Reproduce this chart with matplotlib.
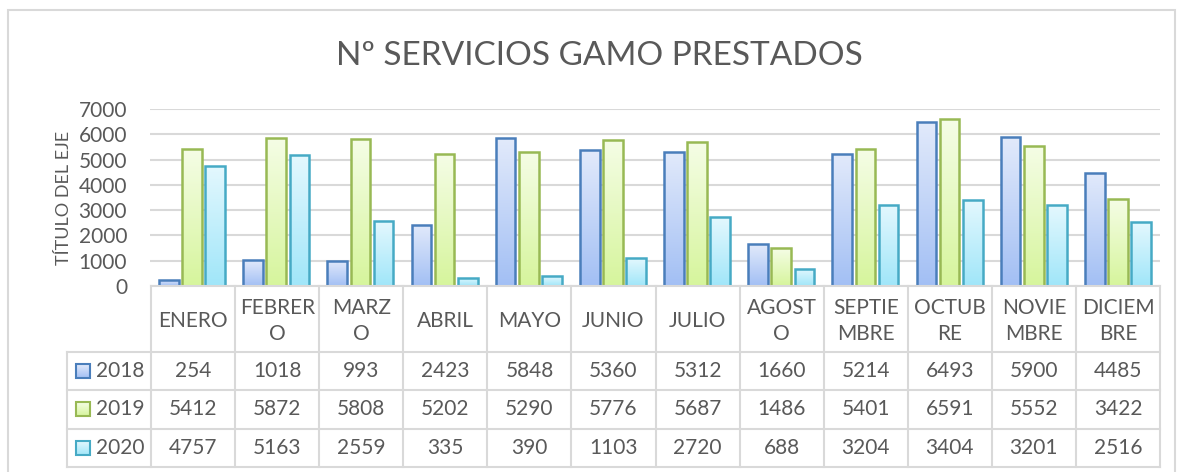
import numpy as np
import matplotlib
matplotlib.use("Agg")
import matplotlib.pyplot as plt
from matplotlib.colors import LinearSegmentedColormap
from matplotlib.patches import Rectangle

plt.rcParams['font.family'] = ['Lato', 'DejaVu Sans']

months = ["ENERO", "FEBRERO", "MARZO", "ABRIL", "MAYO", "JUNIO", "JULIO",
          "AGOSTO", "SEPTIEMBRE", "OCTUBRE", "NOVIEMBRE", "DICIEMBRE"]
header_labels = ["ENERO", "FEBRER\nO", "MARZ\nO", "ABRIL", "MAYO", "JUNIO", "JULIO",
                 "AGOST\nO", "SEPTIE\nMBRE", "OCTUB\nRE", "NOVIE\nMBRE", "DICIEM\nBRE"]
years = ["2018", "2019", "2020"]
v2018 = [254, 1018, 993, 2423, 5848, 5360, 5312, 1660, 5214, 6493, 5900, 4485]
v2019 = [5412, 5872, 5808, 5202, 5290, 5776, 5687, 1486, 5401, 6591, 5552, 3422]
v2020 = [4757, 5163, 2559, 335, 390, 1103, 2720, 688, 3204, 3404, 3201, 2516]
series = [v2018, v2019, v2020]
y_ticks = [0, 1000, 2000, 3000, 4000, 5000, 6000, 7000]

edge_cols = ["#4a7ebb", "#98b954", "#46aac5"]
top_cols = ["#e2eafb", "#f5fde6", "#e4f8fe"]
bot_cols = ["#a2bff4", "#d6f59c", "#a0e6f9"]
gray = "#595959"
grid_col = "#d9d9d9"
FS = 15

W, H = 1185, 472
fig = plt.figure(figsize=(W / 100, H / 100), dpi=100)

def fx(px):
    return px / W

def fy(py):
    return 1 - py / H

# outer frame
fig.patches.append(Rectangle((fx(8), fy(480)), fx(1175) - fx(8), fy(10) - fy(480),
                             transform=fig.transFigure, fill=False,
                             edgecolor="#d9d9d9", linewidth=1.5))

fig.text(fx(599), fy(56), "Nº SERVICIOS GAMO PRESTADOS", ha="center", va="center",
         fontsize=24, color=gray)

# main chart
ax = fig.add_axes([fx(150), fy(286), fx(1160) - fx(150), fy(109) - fy(286)])
ax.set_xlim(-0.5, 11.5)
ax.set_ylim(0, 7000)
for s in ax.spines.values():
    s.set_visible(False)
ax.set_yticks(y_ticks)
ax.set_yticklabels([str(t) for t in y_ticks], fontsize=FS, color=gray)
ax.tick_params(axis="y", length=0, pad=16.5)
ax.set_xticks([])
for t in y_ticks:
    ax.axhline(t, color=grid_col, linewidth=1.5, zorder=0)
ax.set_ylabel("TÍTULO DEL EJE", fontsize=13, color=gray, labelpad=5)

bw = 0.235
step = 0.275
grad = np.linspace(0, 1, 256).reshape(-1, 1)
for k, vals in enumerate(series):
    cmap = LinearSegmentedColormap.from_list("g%d" % k, [bot_cols[k], top_cols[k]])
    for i, v in enumerate(vals):
        x0 = i + (k - 1) * step - bw / 2
        rect = Rectangle((x0, 0), bw, v, facecolor="none", edgecolor=edge_cols[k],
                         linewidth=1.8, zorder=3)
        ax.add_patch(rect)
        im = ax.imshow(grad, extent=[x0, x0 + bw, 0, v], origin="lower", cmap=cmap,
                       aspect="auto", zorder=2)
        im.set_clip_path(rect)
ax.set_xlim(-0.5, 11.5)
ax.set_ylim(0, 7000)

# data table
tab = fig.add_axes([fx(67), fy(470), fx(1160) - fx(67), fy(286) - fy(470)])
tab.set_xlim(-1.5, 11.5)
tab.set_ylim(470, 286)
tab.axis("off")
row_y = [286, 352, 390, 429, 467]
lk = dict(color=grid_col, linewidth=1.5, clip_on=False)
tab.plot([-0.5, 11.5], [row_y[0], row_y[0]], **lk)
for yy in row_y[1:]:
    tab.plot([-1.5, 11.5], [yy, yy], **lk)
for i in range(13):
    xx = i - 0.5
    tab.plot([xx, xx], [row_y[0], row_y[-1]], **lk)
tab.plot([-1.5, -1.5], [row_y[1], row_y[-1]], **lk)

for i, lab in enumerate(header_labels):
    tab.text(i, (row_y[0] + row_y[1]) / 2 + 2, lab, ha="center", va="center",
             fontsize=FS, color=gray, linespacing=1.35)
for r, vals in enumerate(series):
    yc = (row_y[r + 1] + row_y[r + 2]) / 2
    for i, v in enumerate(vals):
        tab.text(i, yc, str(v), ha="center", va="center", fontsize=FS, color=gray)
    cmap = LinearSegmentedColormap.from_list("k%d" % r, [bot_cols[r], top_cols[r]])
    kx0, kw = -1.393, 0.166
    key = Rectangle((kx0, yc + 7), kw, -14, facecolor="none", edgecolor=edge_cols[r],
                    linewidth=1.5, zorder=3)
    tab.add_patch(key)
    im = tab.imshow(grad, extent=[kx0, kx0 + kw, yc + 7, yc - 7], origin="lower",
                    cmap=cmap, aspect="auto", zorder=2)
    im.set_clip_path(key)
    tab.text(-1.16, yc, years[r], ha="left", va="center", fontsize=FS, color=gray)
tab.set_xlim(-1.5, 11.5)
tab.set_ylim(470, 286)

fig.savefig("out.png", dpi=100)
